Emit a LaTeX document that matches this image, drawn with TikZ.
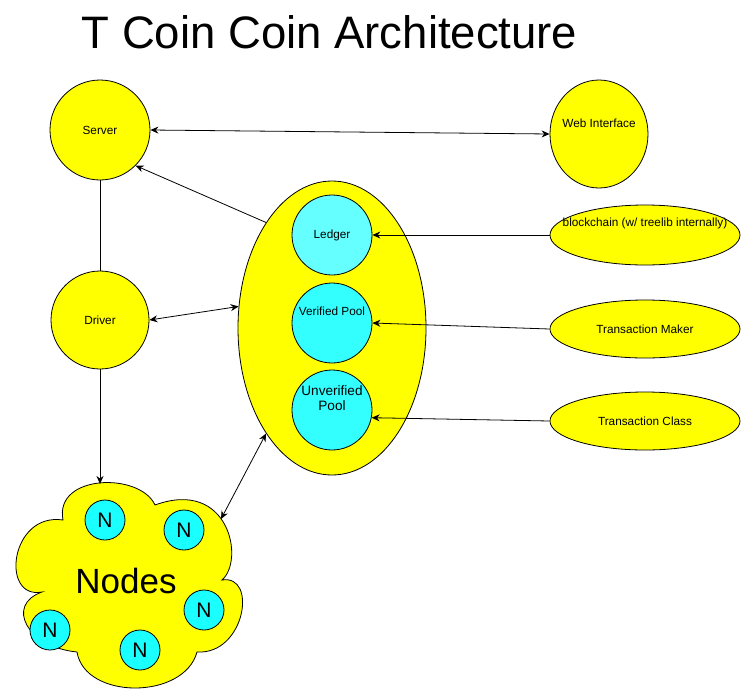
\documentclass[tikz,border=0pt]{standalone}
\usepackage{fontspec}
\setmainfont{Liberation Sans}
\usetikzlibrary{shapes.geometric,arrows.meta}
\definecolor{gelb}{HTML}{FFFF00}
\definecolor{cyanhell}{HTML}{66FFFF}
\definecolor{cyanmittel}{HTML}{33FFFF}
\definecolor{cyanvoll}{HTML}{1AFFFF}
\tikzset{
	schrift/.style={font=\fontsize{11.8}{13}\selectfont},
	kugel/.style={circle, draw=black, line width=0.8pt, fill=gelb, inner sep=0pt, minimum size=#1, schrift},
	oval/.style={ellipse, draw=black, line width=0.8pt, fill=gelb, inner sep=0pt, schrift},
	topf/.style={circle, draw=black, line width=0.8pt, fill=#1, inner sep=0pt, minimum size=80pt, schrift},
	knoten/.style={circle, draw=black, line width=0.8pt, fill=cyanvoll, inner sep=0pt, minimum size=40pt, font=\fontsize{21}{24}\selectfont},
	pfeil/.style={-{Stealth[length=8pt,width=7pt]}, line width=0.8pt},
	doppelpfeil/.style={{Stealth[length=8pt,width=7pt]}-{Stealth[length=8pt,width=7pt]}, line width=0.8pt}
}
\begin{document}
\begin{tikzpicture}[x=1pt,y=-1pt]
		\useasboundingbox (0,0) rectangle (741,699);
		
		% zeichne Titel
		\node[anchor=base, font=\fontsize{45.5}{50}\selectfont] (titel) at (329.5,48) {T Coin Coin Architecture};
		
		% zeichne Kreise links und oben
		\node[kugel=100pt] (server) at (100,130) {Server};
		\node[kugel=98pt] (driver) at (100,320) {Driver};
		\node[oval, minimum width=98pt, minimum height=108pt, label={[schrift, yshift=11pt]center:Web Interface}] (web) at (599,134) {};
		
		% zeichne grosse Ellipse mit den Pools
		\node[oval, minimum width=188pt, minimum height=294pt] (pools) at (332,328) {};
		\node[topf=cyanhell] (ledger) at (332,235) {Ledger};
		\node[topf=cyanmittel, label={[schrift, yshift=12pt]center:Verified Pool}] (verified) at (332,323) {};
		\node[topf=cyanmittel, label={[align=center, font=\fontsize{13.6}{15}\selectfont, yshift=12pt]center:Unverified\\Pool}] (unverified) at (332,410) {};
		
		% zeichne Ellipsen rechts
		\node[oval, minimum width=190pt, minimum height=60pt, label={[schrift, yshift=12pt]center:blockchain (w/ treelib internally)}] (chain) at (645,235) {};
		\node[oval, minimum width=190pt, minimum height=58pt] (maker) at (645,329) {Transaction Maker};
		\node[oval, minimum width=190pt, minimum height=58pt] (txclass) at (645,421) {Transaction Class};
		
		% zeichne Wolke
		\draw[line width=0.8pt, fill=gelb] (63,520) .. controls (10,512) and (0,600) .. (42,592)
			.. controls (5,605) and (27,647) .. (77,652)
			.. controls (85,700) and (184,700) .. (197,652)
			.. controls (245,655) and (258,574) .. (222,580)
			.. controls (245,560) and (229,478) .. (155,505)
			.. controls (140,472) and (54,474) .. (63,520) -- cycle;
		\coordinate (wolkeoben) at (100,484);
		\coordinate (wolkerechts) at (221,519);
		\node[anchor=base, font=\fontsize{35}{40}\selectfont] (nodes) at (126,593) {Nodes};
		\node[knoten] (n1) at (105,520) {N};
		\node[knoten] (n2) at (184,530) {N};
		\node[knoten] (n3) at (204,610) {N};
		\node[knoten] (n4) at (50,630) {N};
		\node[knoten] (n5) at (140,650) {N};
		
		% zeichne Verbindungen
		\draw[doppelpfeil] (server.east) -- (web.west);
		\draw[line width=0.8pt] (server.south) -- (driver.north);
		\draw[pfeil] (pools.122.8) -- (server.-45);
		\draw[doppelpfeil] (driver.east) -- (pools.167.9);
		\draw[pfeil] (driver.south) -- (wolkeoben);
		\draw[doppelpfeil] (pools.238.4) -- (wolkerechts);
		\draw[pfeil] (chain.west) -- (ledger.east);
		\draw[pfeil] (maker.west) -- (verified.east);
		\draw[pfeil] (txclass.west) -- (unverified.-11);
	\end{tikzpicture}
\end{document}
